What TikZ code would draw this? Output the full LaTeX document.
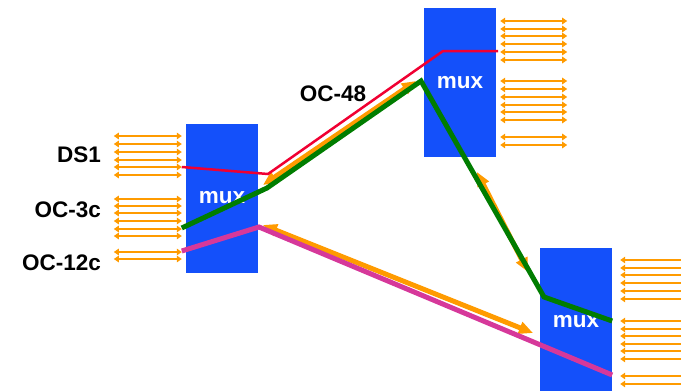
\documentclass[tikz,border=0pt]{standalone}
\usepackage{fontspec}
\setmainfont{Liberation Sans}
\usetikzlibrary{arrows.meta,calc}

\definecolor{muxblue}{RGB}{20,80,250}
\definecolor{tribor}{RGB}{255,155,0}
\definecolor{ds1red}{RGB}{240,0,50}
\definecolor{ocgreen}{RGB}{0,125,0}
\definecolor{ocpink}{RGB}{214,56,154}

\tikzset{
  bigfont/.style={font=\bfseries\fontsize{22.5}{27}\selectfont},
  muxbox/.style={fill=muxblue, inner sep=0pt, minimum width=72pt, minimum height=149pt,
    text=white, bigfont},
  lbl/.style={anchor=base east, inner sep=0pt, bigfont},
  trib/.style={draw=tribor, line width=1.6pt,
    {Triangle[length=5pt,width=6.5pt]}-{Triangle[length=5pt,width=6.5pt]}},
  trunk/.style={draw=tribor, line width=5pt,
    {Triangle[length=14pt,width=12pt]}-{Triangle[length=14pt,width=12pt]}},
  circuit/.style={line width=5pt, line join=miter}
}

\begin{document}
\begin{tikzpicture}[x=1pt, y=-1pt]
 \useasboundingbox (0,0) rectangle (681,391);
 \clip (0,0) rectangle (681,391);

 % the three multiplexers
 \node[muxbox] (mux1) at (222,198) {mux};
 \node[muxbox] (mux2) at (460,82.5) {mux};
 \node[muxbox] (mux3) at (576,322) {mux};

 % tributary ports
 \coordinate (lin) at ($(mux1.west)+(-4,0)$);
 \coordinate (tin) at ($(mux2.east)+(4,0)$);
 \coordinate (bin) at ($(mux3.east)+(8,0)$);
 \foreach \y in {136,144,152,160,167,175,199,206,213,221,229,236,252,259}
   \draw[trib] (lin |- 0,\y) -- ++(-68,0);
 \foreach \y in {21,29,36,44,52,60,81,89,97,105,112,120,137,145}
   \draw[trib] (tin |- 0,\y) -- ++(67,0);
 \foreach \y in {260,268,275,283,291,299,321,329,336,344,351,359,376,384}
   \draw[trib] (bin |- 0,\y) -- ++(72,0);

 \node[lbl] (ds1) at (101,162) {DS1};
 \node[lbl] (oc3) at (101,217) {OC-3c};
 \node[lbl] (oc12) at (101,270) {OC-12c};
 \node[lbl, anchor=base] (oc48) at (333,101.5) {OC-48};

 % trunks between the muxes
 \coordinate (o1) at (263,185);
 \coordinate (o2) at (416,81);
 \coordinate (o3) at (477,172);
 \coordinate (o4) at (528,272);
 \coordinate (o5) at (263,225);
 \coordinate (o6) at (533,333);
 \draw[trunk] (o1) -- (o2);
 \draw[trunk] (o3) -- (o4);
 \draw[trunk] (o5) -- (o6);

 % circuits through the network
 \coordinate (r1) at (268,174);
 \coordinate (r2) at (443,51);
 \draw[ds1red, line width=2.5pt] (lin |- 0,167) -- (r1) -- (r2) -- ($(mux2.east |- 0,51)+(2,0)$);

 \coordinate (g1) at (267,188);
 \coordinate (g2) at (421,81);
 \coordinate (g3) at (544,297);
 \draw[ocgreen, circuit] (lin |- 0,228) -- (g1) -- (g2) -- (g3) -- (mux3.east |- 0,321);

 \coordinate (m1) at (259,227);
 \draw[ocpink, circuit] (lin |- 0,251) -- (m1) -- (mux3.east |- 0,375);
\end{tikzpicture}
\end{document}
